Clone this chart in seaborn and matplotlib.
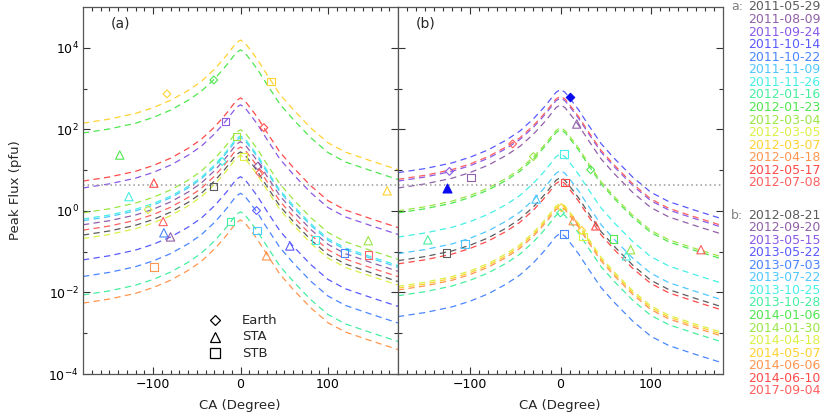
import numpy as np
import matplotlib
matplotlib.use("Agg")
import matplotlib.pyplot as plt
import seaborn as sns
from matplotlib.ticker import FixedLocator, NullFormatter

# -----------------------------
# Data
# -----------------------------

# shared shape of the fitted curves: decades below the peak vs CA
ca_grid = [-180, -150, -120, -100, -80, -60, -45, -30, -20, -15, -10, -5, 0,
           5, 10, 15, 20, 30, 45, 60, 80, 100, 120, 150, 180]
drop_dex = [2.04, 1.94, 1.80, 1.66, 1.48, 1.24, 1.02, 0.72, 0.48, 0.35, 0.21, 0.07, 0.0,
            0.07, 0.21, 0.35, 0.50, 0.84, 1.33, 1.70, 2.15, 2.52, 2.75, 2.97, 3.18]

dates_a = ["2011-05-29", "2011-08-09", "2011-09-24", "2011-10-14", "2011-10-22",
           "2011-11-09", "2011-11-26", "2012-01-16", "2012-01-23", "2012-03-04",
           "2012-03-05", "2012-03-07", "2012-04-18", "2012-05-17", "2012-07-08"]
dates_b = ["2012-08-21", "2012-09-20", "2013-05-15", "2013-05-22", "2013-07-03",
           "2013-07-22", "2013-10-25", "2013-10-28", "2014-01-06", "2014-01-30",
           "2014-04-18", "2014-05-07", "2014-06-06", "2014-06-10", "2017-09-04"]

colors = ["#5c5c5c", "#9060a8", "#8a5ae6", "#5a5aff", "#4a86ff",
          "#50c8ff", "#46f0e6", "#46eea0", "#50e650", "#9be646",
          "#dcf046", "#ffd232", "#ff9650", "#ff4a4a", "#ff6060"]

# fitted peak flux (pfu) at CA = 0
peak_a = [28, 50, 400, 6.9, 2.7, 63, 69, 0.95, 8900, 98, 23, 15500, 0.60, 590, 37]
peak_b = [6.6, 400, 590, 950, 0.28, 9.8, 25, 0.91, 98, 110, 1.55, 1.4, 1.26, 5.5, 650]

# observed peaks: spacecraft (E=Earth, A=STA, B=STB), CA, flux, event index
obs_a_sc = ["E", "E", "B", "B", "A", "E", "A", "B", "A", "B", "E", "B", "E", "E",
            "A", "E", "A", "A", "A", "B", "B", "E", "B", "A", "A", "B", "B", "A", "B"]
obs_a_ca = [-84, -30.5, -17, -4.6, -138, -21, -99, -30.5, -127.6, 35, 26.7, 3.8, 20, 22,
            167.6, -105.5, -88.4, -87.6, -80, -99, -11.4, 18.3, 19, 29.7, 56.4, 85.7,
            118.9, 146, 146]
obs_a_flux = [740, 1620, 155, 66, 23.4, 16.2, 4.8, 4.0, 2.24, 1480, 110, 21.4, 12.6, 8.5,
              3.1, 1.07, 0.55, 0.29, 0.23, 0.042, 0.55, 1.02, 0.33, 0.079, 0.138, 0.195,
              0.093, 0.186, 0.083]
obs_a_event = [11, 8, 2, 9, 8, 6, 13, 0, 6, 11, 13, 10, 1, 14,
               11, 10, 14, 4, 1, 12, 7, 3, 5, 12, 3, 6, 4, 9, 14]

obs_b_sc = ["E", "E", "E", "B", "A", "A", "B", "E", "B", "A", "B", "B", "E", "E",
            "A", "B", "E", "B", "A", "B", "A", "A", "A"]
obs_b_ca = [-53, -30, -123, -99, -27, 18, 3.9, 33.4, 5, -147, -105.8, -126, 0, 1,
            14, 3.9, 23.5, 25, 39, 59, 77.7, 73, 155.6]
obs_b_flux = [44, 21.4, 9.3, 6.6, 1.95, 135, 25, 10.2, 5.0, 0.195, 0.155, 0.093, 0.89, 1.2,
              0.575, 0.27, 0.33, 0.234, 0.43, 0.204, 0.112, 0.079, 0.112]
obs_b_event = [14, 9, 2, 1, 5, 1, 6, 8, 13, 7, 5, 0, 7, 11,
               12, 4, 11, 10, 13, 8, 9, 6, 14]

# highlighted (filled) observations in panel b
filled_sc = ["E", "A"]
filled_ca = [10.5, -126]
filled_flux = [617, 3.6]

threshold = 4.3

sc_marker = {"E": "D", "A": "^", "B": "s"}
sc_size = {"E": 16, "A": 36, "B": 28}

# -----------------------------
# Figure
# -----------------------------

sns.set_style("ticks")
plt.rcParams["font.family"] = ["DejaVu Sans"]
plt.rcParams["xtick.direction"] = "in"
plt.rcParams["ytick.direction"] = "in"

fig = plt.figure(figsize=(8.3, 4.15), dpi=100)
bottom = 1 - 374 / 415
height = 367 / 415
ax_a = fig.add_axes([83 / 830, bottom, 315 / 830, height])
ax_b = fig.add_axes([398 / 830, bottom, 325 / 830, height])

profile = 10 ** (-np.array(drop_dex))


def draw_panel(ax, peaks, sc, ca, flux, event):
    ax.set_yscale("log")
    for i, p in enumerate(peaks):
        sns.lineplot(x=ca_grid, y=p * profile, color=colors[i], ax=ax,
                     linestyle=(0, (5, 3.5)), linewidth=0.9, legend=False)
    for s, c, f, e in zip(sc, ca, flux, event):
        sns.scatterplot(x=[c], y=[f], marker=sc_marker[s], s=sc_size[s],
                        facecolor="none", edgecolor=colors[e], color=colors[e],
                        linewidth=0.8, ax=ax, legend=False, zorder=5)
    ax.axhline(threshold, color="#999999", linestyle=(0, (1, 2)), linewidth=1.1)

    ax.set_xlim(-180, 180)
    ax.set_ylim(1e-4, 1e5)
    ax.xaxis.set_major_locator(FixedLocator([-100, 0, 100]))
    ax.xaxis.set_minor_locator(FixedLocator(np.arange(-170, 180, 10)))
    ax.yaxis.set_major_locator(FixedLocator([1e-4, 1e-2, 1, 1e2, 1e4]))
    ax.yaxis.set_minor_locator(FixedLocator([1e-3, 1e-1, 1e1, 1e3]))
    ax.yaxis.set_minor_formatter(NullFormatter())
    ax.tick_params(which="both", top=True, right=True, colors="#333333",
                   labelcolor="black", labelsize=9, width=0.8)
    ax.tick_params(which="major", length=5, pad=3)
    ax.tick_params(which="minor", length=3)
    for sp in ax.spines.values():
        sp.set_color("#555555")
        sp.set_linewidth(0.9)
    ax.set_xlabel("")
    ax.set_ylabel("")


draw_panel(ax_a, peak_a, obs_a_sc, obs_a_ca, obs_a_flux, obs_a_event)
draw_panel(ax_b, peak_b, obs_b_sc, obs_b_ca, obs_b_flux, obs_b_event)

for s, c, f in zip(filled_sc, filled_ca, filled_flux):
    sns.scatterplot(x=[c], y=[f], marker=sc_marker[s], s=sc_size[s] * 1.15,
                    color="#0a0aee", edgecolor="#0a0aee", linewidth=0.8,
                    ax=ax_b, legend=False, zorder=6)

ax_a.set_yticklabels([r"$10^{-4}$", r"$10^{-2}$", r"$10^{0}$", r"$10^{2}$", r"$10^{4}$"])
ax_b.tick_params(labelleft=False)

# panel tags
ax_a.text(0.088, 0.955, "(a)", transform=ax_a.transAxes, fontsize=10, va="center")
ax_b.text(0.055, 0.955, "(b)", transform=ax_b.transAxes, fontsize=10, va="center")

# spacecraft legend
legend_ms = {"E": 5.2, "A": 7.5, "B": 7}
for k, (s, name) in enumerate([("E", "Earth"), ("A", "STA"), ("B", "STB")]):
    yy = 1 - (320 + 16.7 * k) / 415
    fig.text(242 / 830, yy, name, fontsize=9.5, va="center", ha="left")
    fig.add_artist(plt.Line2D([215 / 830], [yy], marker=sc_marker[s],
                              markersize=legend_ms[s],
                              markerfacecolor="none", markeredgecolor="black",
                              markeredgewidth=0.9, linestyle="none",
                              transform=fig.transFigure))

# axis labels
fig.text(15 / 830, 1 - 190 / 415, "Peak Flux (pfu)", rotation=90,
         fontsize=9.5, ha="center", va="center")
fig.text(240 / 830, 1 - 405 / 415, "CA (Degree)", fontsize=9.5, ha="center", va="center")
fig.text(560 / 830, 1 - 405 / 415, "CA (Degree)", fontsize=9.5, ha="center", va="center")

# event date legend
fig.text(731 / 830, 1 - 7 / 415, "a:", color="#808080", fontsize=9, va="center")
for i, d in enumerate(dates_a):
    fig.text(748 / 830, 1 - (7 + 12.57 * i) / 415, d, color=colors[i],
             fontsize=9, va="center", ha="left")
fig.text(731 / 830, 1 - 215 / 415, "b:", color="#808080", fontsize=9, va="center")
for i, d in enumerate(dates_b):
    fig.text(748 / 830, 1 - (215 + 12.57 * i) / 415, d, color=colors[i],
             fontsize=9, va="center", ha="left")

fig.savefig("out.png", dpi=100)
plt.close(fig)
print("Saved out.png")
